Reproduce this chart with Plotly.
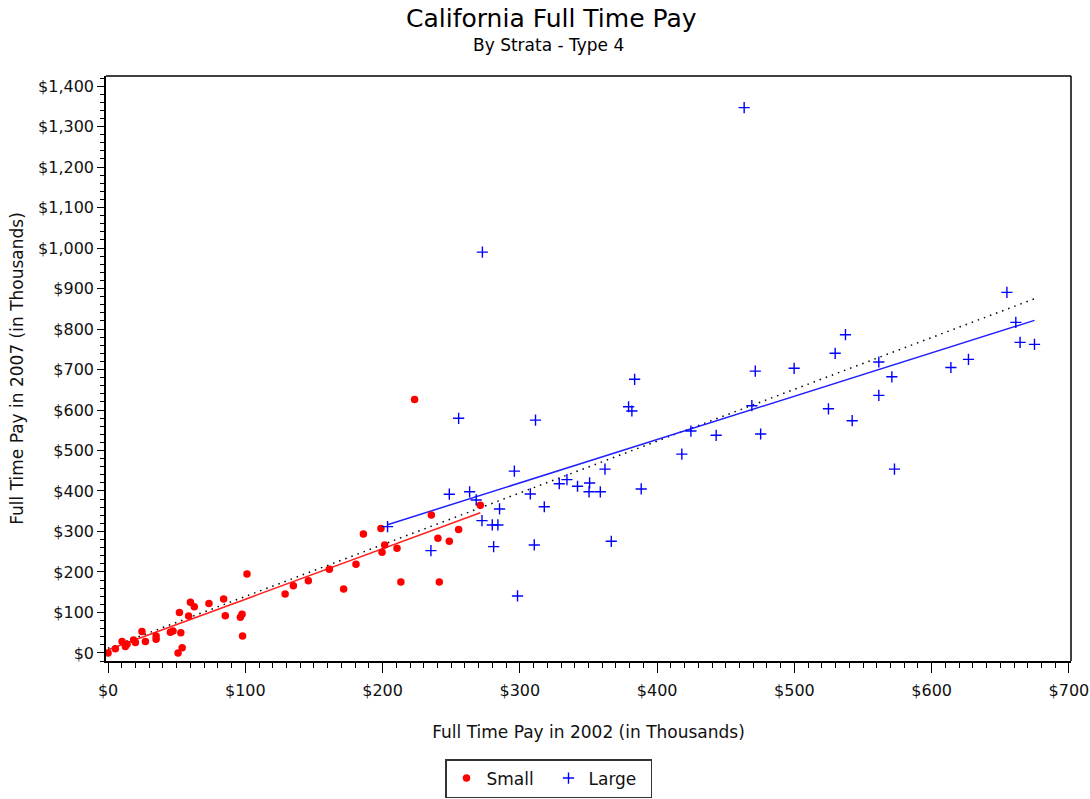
import plotly.graph_objects as go
import numpy as np

# Small strata (pay in thousands)
small_2002 = [0, 5.3, 10.2, 12.6, 13.8, 18.6, 19.9, 24.7, 27.2, 35, 35, 45.4, 47.3, 51, 52, 53, 54,
              58.7, 60, 62.8, 73.5, 84.2, 85.4, 96.4, 97.6, 98, 101.2, 129, 135, 145.9, 161.2,
              171.6, 180.6, 186, 198.8, 201.5, 199.6, 210.5, 213.3, 223.3, 235.5, 240.3, 241.3,
              248.6, 255.4, 271.2]
small_2007 = [0, 10, 28, 15.6, 21.4, 32, 26, 52.6, 28, 42, 34, 51, 54, 0, 100, 50, 13,
              91, 125, 114, 122, 133, 92, 88, 95.5, 42, 195, 145.7, 166, 178.5, 206.6,
              158, 219, 294, 307, 266.7, 248.6, 258.5, 175, 626, 340.7, 283, 175,
              275.7, 305, 365]

# Large strata
large_2002 = [203.6, 235.2, 248.6, 255.4, 263.4, 268.2, 272.4, 279.9, 284, 285.2, 280.9, 296,
              307.6, 311.4, 317.8, 310.5, 328.7, 334.3, 342, 350.4, 350.8, 358.6, 362, 366.6,
              379.2, 381.6, 383.6, 388.4, 298.3, 272.7, 463.4, 418, 424.6, 443, 469, 471.5,
              475.4, 499.8, 524.8, 529.7, 537.2, 542.1, 561.5, 561.5, 571, 572.9, 614, 626.8,
              654.8, 661.3, 664.4, 674.9]
large_2007 = [312, 252.6, 392, 579.5, 398, 377.8, 326.7, 316, 316, 355.6, 262.5, 449,
              392.6, 575, 361, 266.7, 418, 428, 411.6, 398, 419.8, 398, 454, 275.7,
              608, 597.5, 675.8, 405, 140.7, 990, 1347, 491, 548, 537.5, 610.6, 696,
              540.7, 703, 603, 740, 786, 573.6, 718.5, 636, 682, 454, 705, 725,
              890.6, 816.5, 767, 762]

# Fitted lines: (slope, intercept, x start, x end)
fit_small = (1.248, 7.7, 0, 271.2)
fit_large = (1.071, 98.6, 203.6, 674.9)
fit_all = (1.279, 11.6, 0, 674.9)

x_ticks = [0, 100, 200, 300, 400, 500, 600, 700]
x_tick_labels = ["$0", "$100", "$200", "$300", "$400", "$500", "$600", "$700"]
y_ticks = list(range(0, 1401, 100))
y_tick_labels = ["$0", "$100", "$200", "$300", "$400", "$500", "$600", "$700", "$800",
                 "$900", "$1,000", "$1,100", "$1,200", "$1,300", "$1,400"]

FONT = "DejaVu Sans, Verdana, sans-serif"
TXT = "#111111"
fig = go.Figure()

def fit_line(f):
    xs = np.array([f[2], f[3]])
    return xs, f[0] * xs + f[1]

xs, ys = fit_line(fit_all)
fig.add_trace(go.Scatter(x=xs, y=ys, mode="lines",
                         line=dict(color="black", width=1.5, dash="1.5px,5px"),
                         showlegend=False, hoverinfo="skip"))
xs, ys = fit_line(fit_small)
fig.add_trace(go.Scatter(x=xs, y=ys, mode="lines", line=dict(color="#ff2020", width=1.5),
                         showlegend=False, hoverinfo="skip"))
xs, ys = fit_line(fit_large)
fig.add_trace(go.Scatter(x=xs, y=ys, mode="lines", line=dict(color="#2020ff", width=1.5),
                         showlegend=False, hoverinfo="skip"))

fig.add_trace(go.Scatter(x=small_2002, y=small_2007, mode="markers", name="Small",
                         marker=dict(color="#ff0000", size=7.5, symbol="circle")))
fig.add_trace(go.Scatter(x=large_2002, y=large_2007, mode="markers", name="Large",
                         marker=dict(color="#0000ff", size=8, symbol="cross-thin",
                                     line=dict(color="#0000ff", width=1.4))))

axis_common = dict(showgrid=False, zeroline=False, showline=True, linecolor="black", linewidth=1.5,
                   ticks="outside", tickcolor="black", tickwidth=1.2, mirror=False,
                   automargin=False,
                   tickfont=dict(family=FONT, size=16, color=TXT))
fig.update_xaxes(**axis_common, range=[-1.5, 701.5], tickvals=x_ticks, ticktext=x_tick_labels,
                 ticklen=10, ticklabelstandoff=4,
                 minor=dict(dtick=10, ticklen=5, tickcolor="black", ticks="outside"),
                 title=dict(text="Full Time Pay in 2002 (in Thousands)", standoff=27,
                            font=dict(family=FONT, size=17, color=TXT)))
fig.update_yaxes(**axis_common, range=[-20, 1425], tickvals=y_ticks, ticktext=y_tick_labels,
                 ticklen=7,
                 minor=dict(dtick=20, ticklen=4, tickcolor="black", ticks="outside"),
                 title=dict(text="Full Time Pay in 2007 (in Thousands)", standoff=10,
                            font=dict(family=FONT, size=17, color=TXT)))

# frame top and right
fig.add_shape(type="line", xref="paper", yref="paper", x0=0, x1=1, y0=1, y1=1,
              line=dict(color="black", width=1.5))
fig.add_shape(type="line", xref="paper", yref="paper", x0=1, x1=1, y0=0, y1=1,
              line=dict(color="black", width=1.5))

fig.add_annotation(text="California Full Time Pay", xref="paper", yref="paper",
                   x=(551 - 106) / 965, y=1 + (76 - 19) / 585, showarrow=False,
                   font=dict(family=FONT, size=25, color="black"), yanchor="middle")
fig.add_annotation(text="By Strata - Type 4", xref="paper", yref="paper",
                   x=(548 - 106) / 965, y=1 + (76 - 45) / 585, showarrow=False,
                   font=dict(family=FONT, size=17, color="black"), yanchor="middle")

fig.update_layout(
    width=1090, height=799,
    margin=dict(l=106, r=19, t=76, b=138),
    plot_bgcolor="white", paper_bgcolor="white",
    legend=dict(orientation="h", xref="container", yref="container",
                x=445 / 1090, xanchor="left", y=1 - 759 / 799,
                yanchor="top", bordercolor="#333", borderwidth=1.5, entrywidth=57,
                font=dict(family=FONT, size=17, color=TXT)),
)

fig.write_html("out.html", config={"displayModeBar": False},
               post_script="document.body.style.margin='0';document.body.style.overflow='hidden';")
